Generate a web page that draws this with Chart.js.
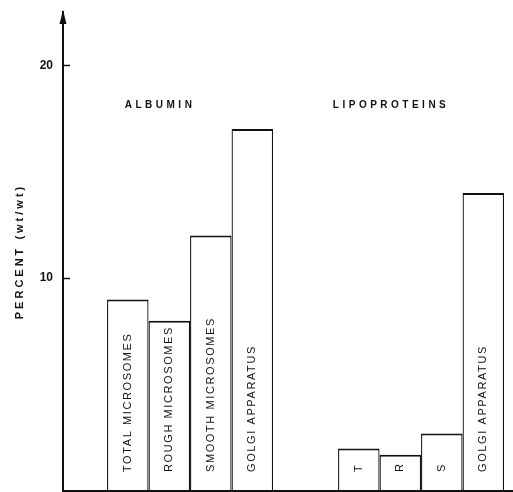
<!DOCTYPE html>
<html>
<head>
<meta charset="utf-8">
<script src="https://cdn.jsdelivr.net/npm/chart.js@4/dist/chart.umd.min.js"></script>
<style>
  html, body { margin: 0; padding: 0; background: #fff; }
  #wrap { width: 513px; height: 492px; position: relative; }
</style>
</head>
<body>
<div id="wrap"><canvas id="c"></canvas></div>
<script>
// Protein groups along the x axis
const groups = ['ALBUMIN', 'LIPOPROTEINS'];
// Cell fractions (one bar per fraction in each group)
const fractions = ['TOTAL MICROSOMES', 'ROUGH MICROSOMES', 'SMOOTH MICROSOMES', 'GOLGI APPARATUS'];
// Text written inside the bars of each group
const albuminBarText = ['TOTAL MICROSOMES', 'ROUGH MICROSOMES', 'SMOOTH MICROSOMES', 'GOLGI APPARATUS'];
const lipoproteinBarText = ['T', 'R', 'S', 'GOLGI APPARATUS'];
// Percent (wt/wt) per fraction
const albumin = [9, 8, 12, 17];
const lipoproteins = [2, 1.7, 2.7, 14];
// Labelled y ticks
const yTicks = [10, 20];
const yTitle = 'PERCENT (wt/wt)';

const barText = [albuminBarText, lipoproteinBarText];
const seriesByGroup = [albumin, lipoproteins];

const datasets = fractions.map((name, k) => ({
  label: name,
  data: groups.map((g, i) => ({ x: i, y: seriesByGroup[i][k] })),
  backgroundColor: '#ffffff',
  borderColor: '#111111',
  borderWidth: { top: 2, left: 1.3, right: 1.3, bottom: 0 },
  borderSkipped: 'start',
  barPercentage: 1,
  categoryPercentage: 0.7186
}));

// Extra drawing: axis arrow, inward ticks, baseline, titles and bar text
const decorations = {
  id: 'decorations',
  afterDatasetsDraw(chart) {
    const { ctx, chartArea, scales } = chart;
    const y = scales.y, x = scales.x;
    const base = y.getPixelForValue(0);
    const axisX = chartArea.left;
    ctx.save();
    ctx.strokeStyle = '#111';
    ctx.fillStyle = '#111';

    // baseline
    ctx.lineWidth = 2;
    ctx.beginPath();
    ctx.moveTo(axisX, base);
    ctx.lineTo(chartArea.right, base);
    ctx.stroke();

    // inward tick marks
    ctx.lineWidth = 1.5;
    yTicks.forEach(v => {
      const py = Math.round(y.getPixelForValue(v)) + 0.5;
      ctx.beginPath();
      ctx.moveTo(axisX, py);
      ctx.lineTo(axisX + 7, py);
      ctx.stroke();
    });

    // arrow head at the top of the y axis
    ctx.beginPath();
    ctx.moveTo(axisX, chartArea.top - 2);
    ctx.lineTo(axisX - 3.5, chartArea.top + 12);
    ctx.lineTo(axisX + 3.5, chartArea.top + 12);
    ctx.closePath();
    ctx.fill();

    // y axis title
    ctx.save();
    ctx.translate(20, (chartArea.top + chartArea.bottom) / 2);
    ctx.rotate(-Math.PI / 2);
    ctx.font = 'bold 11px "Liberation Sans", Arial, sans-serif';
    ctx.letterSpacing = '3px';
    ctx.textAlign = 'center';
    ctx.textBaseline = 'middle';
    ctx.fillText(yTitle, 0, 0);
    ctx.restore();

    // group titles
    ctx.font = 'bold 10px "Liberation Sans", Arial, sans-serif';
    ctx.letterSpacing = '3.5px';
    ctx.textAlign = 'center';
    ctx.textBaseline = 'middle';
    groups.forEach((g, i) => {
      ctx.fillText(g, x.getPixelForValue(i) - 30, 105);
    });

    // text inside the bars, reading upward from near the base
    ctx.font = '11px "Liberation Sans", Arial, sans-serif';
    ctx.letterSpacing = '1.6px';
    ctx.textAlign = 'left';
    ctx.textBaseline = 'middle';
    chart.data.datasets.forEach((ds, k) => {
      const meta = chart.getDatasetMeta(k);
      meta.data.forEach((bar, i) => {
        ctx.save();
        ctx.translate(bar.x, base - 19);
        ctx.rotate(-Math.PI / 2);
        ctx.fillText(barText[i][k], 0, 0);
        ctx.restore();
      });
    });
    ctx.restore();
  }
};

new Chart(document.getElementById('c'), {
  type: 'bar',
  data: { datasets },
  options: {
    responsive: true,
    maintainAspectRatio: false,
    animation: false,
    layout: { padding: { top: 12, right: 0, bottom: 1, left: 0 } },
    plugins: { legend: { display: false }, tooltip: { enabled: false } },
    scales: {
      x: {
        type: 'linear',
        display: false,
        offset: false,
        min: -0.55,
        max: 1.398,
        afterBuildTicks(scale) { scale.ticks = groups.map((g, i) => ({ value: i })); }
      },
      y: {
        min: 0,
        max: 22.5,
        afterFit(scale) {
          scale.width = 63;
          scale.paddingTop = 0;
          scale.paddingBottom = 0;
        },
        afterBuildTicks(scale) { scale.ticks = yTicks.map(v => ({ value: v })); },
        grid: { display: true, drawOnChartArea: false, drawTicks: false },
        border: { display: true, color: '#111', width: 2 },
        ticks: {
          padding: 10,
          color: '#111',
          font: { family: '"Liberation Sans", Arial, sans-serif', size: 12, weight: 'bold' }
        }
      }
    }
  },
  plugins: [decorations]
});
</script>
</body>
</html>
